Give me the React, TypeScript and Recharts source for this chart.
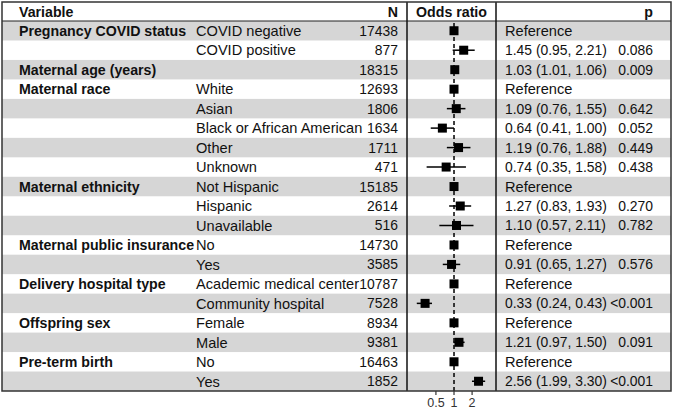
import {
  ScatterChart,
  Scatter,
  XAxis,
  YAxis,
  ReferenceArea,
  ReferenceLine,
  ErrorBar,
} from 'recharts';

const variables = [
  'Pregnancy COVID status', '', 'Maternal age (years)', 'Maternal race', '', '', '', '',
  'Maternal ethnicity', '', '', 'Maternal public insurance', '', 'Delivery hospital type', '',
  'Offspring sex', '', 'Pre-term birth', '',
];
const levels = [
  'COVID negative', 'COVID positive', '', 'White', 'Asian', 'Black or African American', 'Other',
  'Unknown', 'Not Hispanic', 'Hispanic', 'Unavailable', 'No', 'Yes', 'Academic medical center',
  'Community hospital', 'Female', 'Male', 'No', 'Yes',
];
const counts = [
  17438, 877, 18315, 12693, 1806, 1634, 1711, 471, 15185, 2614, 516, 14730, 3585, 10787, 7528,
  8934, 9381, 16463, 1852,
];
const oddsRatios = [
  1, 1.45, 1.03, 1, 1.09, 0.64, 1.19, 0.74, 1, 1.27, 1.1, 1, 0.91, 1, 0.33, 1, 1.21, 1, 2.56,
];
const ciLower = [
  null, 0.95, 1.01, null, 0.76, 0.41, 0.76, 0.35, null, 0.83, 0.57, null, 0.65, null, 0.24, null,
  0.97, null, 1.99,
];
const ciUpper = [
  null, 2.21, 1.06, null, 1.55, 1.0, 1.88, 1.58, null, 1.93, 2.11, null, 1.27, null, 0.43, null,
  1.5, null, 3.3,
];
const pValues = [
  null, '0.086', '0.009', null, '0.642', '0.052', '0.449', '0.438', null, '0.270', '0.782', null,
  '0.576', null, '<0.001', null, '0.091', null, '<0.001',
];
const orTicks = [0.5, 1, 2];

const FONT = "'Liberation Sans', Arial, sans-serif";
const FS = 14.6; // word cells
const FS_NUM = 13.9; // numeric cells
const FS_BOLD = 14.2; // bold variable names / header
const STRIPE = '#d6d6d6';

const rows = counts.map((n, i) => {
  const lo = ciLower[i];
  const hi = ciUpper[i];
  const or = oddsRatios[i];
  const ref = lo == null || hi == null;
  return {
    row: i,
    variable: variables[i],
    level: levels[i],
    n,
    or,
    ref,
    err: ref ? null : [or - lo, hi - or],
    estimate: ref ? 'Reference' : `${or.toFixed(2)} (${lo.toFixed(2)}, ${hi.toFixed(2)})`,
    p: pValues[i],
  };
});

const rowIndex = rows.map((r) => r.row);

// one table row: drawn from the y axis tick so it sits on the row band centre
function RowTick({ y, payload }: any) {
  const r = rows[payload.value];
  if (!r) return null;
  return (
    <g fontFamily={FONT} fontSize={FS} fill="#111">
      {r.variable && (
        <text x={19} y={y} dy="0.36em" fontWeight="bold" fontSize={FS_BOLD}>
          {r.variable}
        </text>
      )}
      {r.level && (
        <text x={196} y={y} dy="0.36em">
          {r.level}
        </text>
      )}
      <text x={398} y={y} dy="0.36em" textAnchor="end" fontSize={FS_NUM}>
        {r.n}
      </text>
      <text x={505} y={y} dy="0.36em" fontSize={r.ref ? FS : FS_NUM}>
        {r.estimate}
      </text>
      {r.p && (
        <text x={653} y={y} dy="0.36em" textAnchor="end" fontSize={FS_NUM}>
          {r.p}
        </text>
      )}
    </g>
  );
}

// full-width table stripe, y taken from the row band
function Stripe(props: any) {
  return <rect x={2} y={props.y} width={669} height={props.height} fill={STRIPE} />;
}

function Square({ cx, cy }: any) {
  return <rect x={cx - 4.5} y={cy - 4.5} width={9} height={9} fill="#000" />;
}

export default function App() {
  return (
    <div style={{ position: 'absolute', left: 0, top: 0, width: 674, height: 412, background: '#fff' }}>
      <ScatterChart width={674} height={412} margin={{ top: 21, right: 178, bottom: 0, left: 0 }}>
        {rows
          .filter((r) => r.row % 2 === 0)
          .map((r) => (
            <ReferenceArea
              key={r.row}
              y1={r.row - 0.5}
              y2={r.row + 0.5}
              shape={<Stripe />}
              ifOverflow="visible"
            />
          ))}
        <XAxis
          dataKey="or"
          type="number"
          scale="log"
          domain={[0.165, 5]}
          allowDataOverflow
          ticks={orTicks}
          height={21}
          axisLine={false}
          tickSize={4}
          tickMargin={3}
          tickLine={{ stroke: '#333', strokeWidth: 1.2 }}
          tick={{ fontSize: 12.5, fill: '#333', fontFamily: FONT }}
          tickFormatter={(v: number) => String(v)}
        />
        <YAxis
          dataKey="row"
          type="number"
          domain={[-0.5, 18.5]}
          reversed
          ticks={rowIndex}
          interval={0}
          width={407}
          axisLine={false}
          tickLine={false}
          tick={<RowTick />}
        />
        <ReferenceLine x={1} stroke="#000" strokeWidth={1.5} strokeDasharray="4 3" />
        <Scatter data={rows} shape={<Square />} isAnimationActive={false}>
          <ErrorBar dataKey="err" direction="x" width={0} stroke="#000" strokeWidth={1.5} />
        </Scatter>
      </ScatterChart>
      <svg
        width={674}
        height={412}
        style={{ position: 'absolute', left: 0, top: 0, pointerEvents: 'none' }}
        fontFamily={FONT}
        fontSize={FS_BOLD}
        fontWeight="bold"
        fill="#111"
      >
        <text x={19} y={12} dy="0.36em">Variable</text>
        <text x={398} y={12} dy="0.36em" textAnchor="end">N</text>
        <text x={451.5} y={12} dy="0.36em" textAnchor="middle">Odds ratio</text>
        <text x={653} y={12} dy="0.36em" textAnchor="end">p</text>
        <line x1={2} x2={671} y1={21} y2={21} stroke="#222" strokeWidth={1} />
        <line x1={407} x2={407} y1={2} y2={391} stroke="#111" strokeWidth={1.5} />
        <line x1={496} x2={496} y1={2} y2={391} stroke="#111" strokeWidth={1.5} />
        <rect x={2} y={2} width={669} height={389} fill="none" stroke="#333" strokeWidth={1.5} />
      </svg>
    </div>
  );
}
